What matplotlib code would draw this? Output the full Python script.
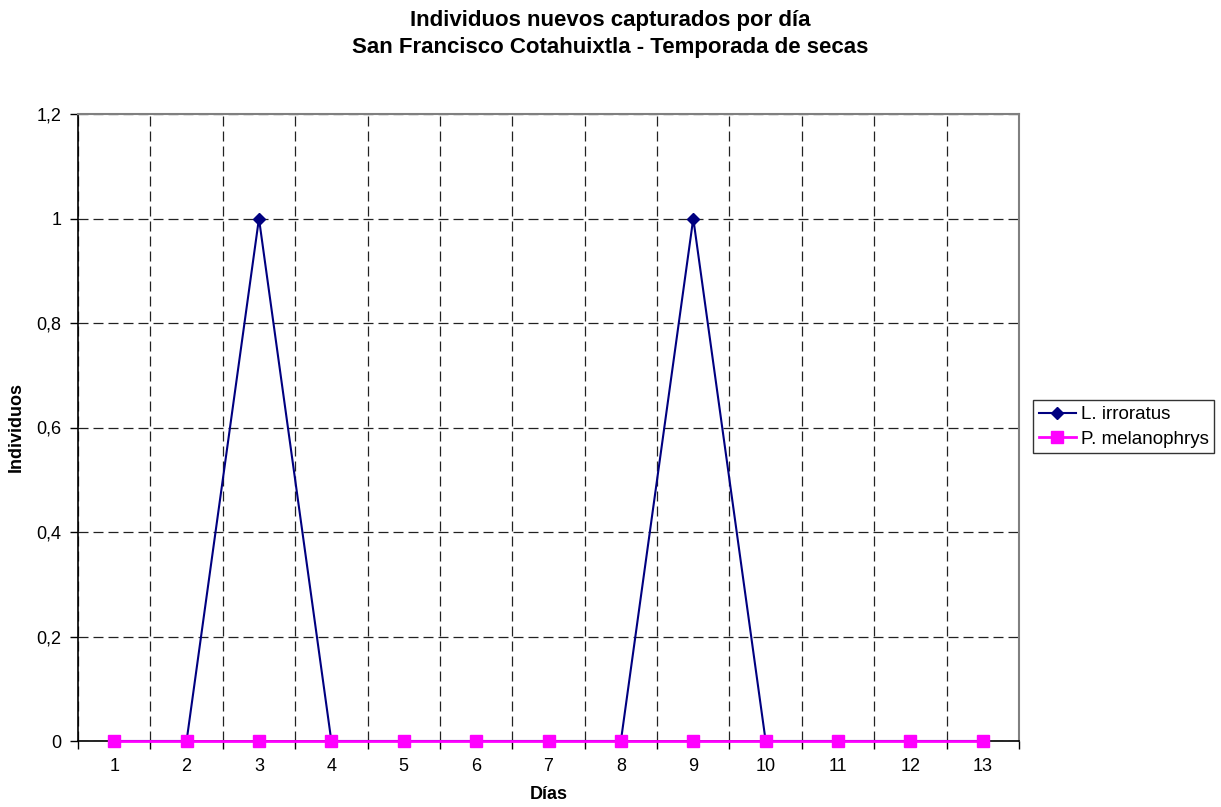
import numpy as np
import matplotlib
matplotlib.use("Agg")
import matplotlib.pyplot as plt
from matplotlib.ticker import FixedLocator

plt.rcParams['font.family'] = ['Liberation Sans', 'DejaVu Sans']

# --------------------------------------------------------------------------
# Data
dias = list(range(1, 14))
l_irroratus = [0, 0, 1, 0, 0, 0, 0, 0, 1, 0, 0, 0, 0]
p_melanophrys = [0, 0, 0, 0, 0, 0, 0, 0, 0, 0, 0, 0, 0]
y_ticks = [0, 0.2, 0.4, 0.6, 0.8, 1.0, 1.2]
y_labels = ["0", "0,2", "0,4", "0,6", "0,8", "1", "1,2"]

# --------------------------------------------------------------------------
# Figure
W, H = 1221, 807
fig = plt.figure(figsize=(W / 100, H / 100), dpi=100)
ax = fig.add_axes([78 / W, 1 - 741 / H, (1019 - 78) / W, (741 - 114) / H])

ax.plot(dias, l_irroratus, color='#000080', lw=1.5, marker='D',
        markersize=6.5, label='L. irroratus', zorder=3)
ax.plot(dias, p_melanophrys, color='#FF00FF', lw=2, marker='s',
        markersize=8, label='P. melanophrys', zorder=4, clip_on=False)

ax.set_xlim(0.5, 13.5)
ax.set_ylim(0, 1.2)

# gridlines at category boundaries, Excel style
ax.set_xticks(dias)
ax.set_xticklabels([str(d) for d in dias])
ax.xaxis.set_minor_locator(FixedLocator(np.arange(0.5, 14, 1)))
ax.tick_params(axis='x', which='major', length=0, pad=12, labelsize=13)
ax.tick_params(axis='x', which='minor', length=6, width=1, direction='out')
ax.grid(True, which='minor', axis='x', color='#222222', linestyle=(0, (8, 4)), lw=0.9)

ax.set_yticks(y_ticks)
ax.set_yticklabels(y_labels)
ax.tick_params(axis='y', length=6, width=1, direction='out', pad=6, labelsize=13)
ax.grid(True, which='major', axis='y', color='#222222', linestyle=(0, (8, 4)), lw=0.9)
ax.set_axisbelow(True)

for s in ['top', 'right']:
    ax.spines[s].set_color('#808080')
    ax.spines[s].set_linewidth(1.5)
for s in ['left', 'bottom']:
    ax.spines[s].set_color('#000000')
    ax.spines[s].set_linewidth(1.2)

ax.set_xlabel('Días', fontsize=13, fontweight='bold', labelpad=8)
ax.set_ylabel('Individuos', fontsize=13, fontweight='bold', labelpad=8)

fig.text(0.5, 1 - 34 / H,
         'Individuos nuevos capturados por día\nSan Francisco Cotahuixtla - Temporada de secas',
         ha='center', va='center', fontsize=16, fontweight='bold', linespacing=1.35)

leg = fig.legend(loc='center left', bbox_to_anchor=(1033 / W, 1 - 427 / H),
                 fontsize=13.5, frameon=True, fancybox=False, handlelength=2.0,
                 borderpad=0.3, labelspacing=0.4, handletextpad=0.25,
                 borderaxespad=0)
leg.get_frame().set_edgecolor('#000000')
leg.get_frame().set_linewidth(1)

fig.savefig('out.png', dpi=100)
